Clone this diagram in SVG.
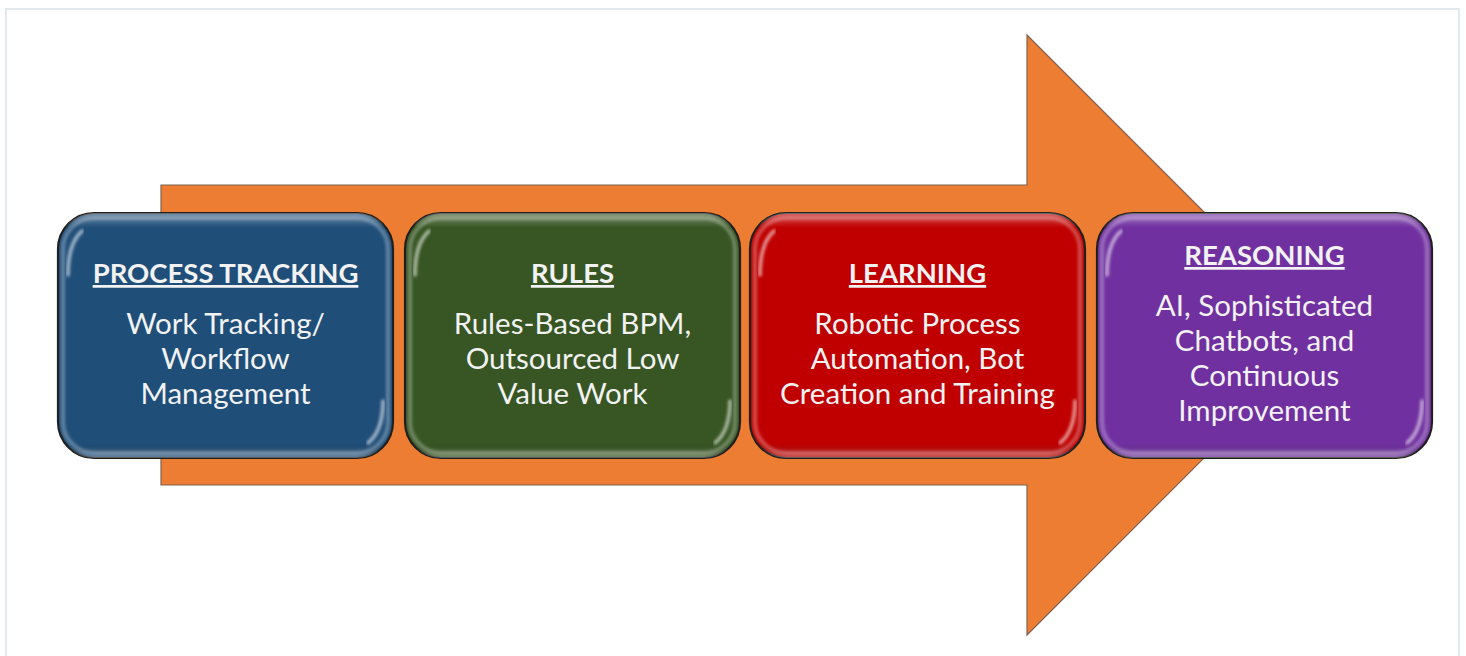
<svg xmlns="http://www.w3.org/2000/svg" width="1466" height="656" viewBox="0 0 1466 656">
  <defs>
    <style>
      .frame { fill: #ffffff; stroke: #e3e8ec; stroke-width: 2; }
      .arrow { fill: #ed7d31; stroke: #7f6350; stroke-width: 1.2; }
      .box { stroke: #1e1e1e; stroke-width: 2.2; }
      .bevel { fill: none; stroke: #ffffff; stroke-opacity: 0.3; stroke-width: 4; filter: url(#soft); }
      .shine { fill: none; stroke: #ffffff; stroke-opacity: 0.6; stroke-width: 3.5; stroke-linecap: round; filter: url(#soft); }
      .title { font-family: Lato, "Open Sans", sans-serif; font-weight: 700; font-size: 27.5px; fill: #f2f2f2; text-anchor: middle; text-decoration: underline; }
      .body { font-family: Lato, "Open Sans", sans-serif; font-size: 29.5px; fill: #f2f2f2; text-anchor: middle; }
    </style>
    <filter id="soft" x="-10%" y="-10%" width="120%" height="120%">
      <feGaussianBlur stdDeviation="1.4"/>
    </filter>
    <filter id="edge" x="-5%" y="-5%" width="110%" height="110%">
      <feGaussianBlur stdDeviation="0.6"/>
    </filter>
    <linearGradient id="topband" x1="0" y1="0" x2="0" y2="1">
      <stop offset="0" stop-color="#ffffff" stop-opacity="0.35"/>
      <stop offset="0.06" stop-color="#ffffff" stop-opacity="0"/>
      <stop offset="0.94" stop-color="#000000" stop-opacity="0"/>
      <stop offset="1" stop-color="#ffffff" stop-opacity="0.3"/>
    </linearGradient>
    <!-- shared bevelled card shape, 335 x 245 -->
    <g id="card-gloss">
      <rect x="0" y="0" width="335" height="245" rx="36" fill="url(#topband)"/>
      <rect x="5" y="5" width="325" height="235" rx="31" class="bevel"/>
      <path d="M10,62 Q10,30 24,18" class="shine"/>
      <path d="M325,50 L325,75" class="shine" stroke-opacity="0.45"/>
      <path d="M325,188 Q325,218 310,230" class="shine"/>
      <path d="M10,190 L10,205" class="shine" stroke-opacity="0.35"/>
    </g>
  </defs>

  <!-- page frame -->
  <rect class="frame" x="6" y="9" width="1453" height="660"/>

  <!-- big orange progress arrow behind the stages -->
  <g id="connectors">
    <path class="arrow" filter="url(#edge)" d="M161,185 H1027 V35 L1327,335 L1027,635 V485 H161 Z"/>
  </g>

  <g id="process-tracking">
    <rect class="box" x="58" y="213" width="335" height="245" rx="36" fill="#1f4e79"/>
    <use href="#card-gloss" x="58" y="213"/>
    <text class="title" x="225.5" y="283">PROCESS TRACKING</text>
    <text class="body" x="225.5" y="334">Work Tracking/</text>
    <text class="body" x="225.5" y="369">Workflow</text>
    <text class="body" x="225.5" y="404">Management</text>
  </g>

  <g id="rules">
    <rect class="box" x="405" y="213" width="335" height="245" rx="36" fill="#375623"/>
    <use href="#card-gloss" x="405" y="213"/>
    <text class="title" x="572.5" y="283">RULES</text>
    <text class="body" x="572.5" y="334">Rules-Based BPM,</text>
    <text class="body" x="572.5" y="369">Outsourced Low</text>
    <text class="body" x="572.5" y="404">Value Work</text>
  </g>

  <g id="learning">
    <rect class="box" x="750" y="213" width="335" height="245" rx="36" fill="#c00000"/>
    <use href="#card-gloss" x="750" y="213"/>
    <text class="title" x="917.5" y="283">LEARNING</text>
    <text class="body" x="917.5" y="334">Robotic Process</text>
    <text class="body" x="917.5" y="369">Automation, Bot</text>
    <text class="body" x="917.5" y="404">Creation and Training</text>
  </g>

  <g id="reasoning">
    <rect class="box" x="1097" y="213" width="335" height="245" rx="36" fill="#7030a0"/>
    <use href="#card-gloss" x="1097" y="213"/>
    <text class="title" x="1264.5" y="265">REASONING</text>
    <text class="body" x="1264.5" y="316">AI, Sophisticated</text>
    <text class="body" x="1264.5" y="351">Chatbots, and</text>
    <text class="body" x="1264.5" y="386">Continuous</text>
    <text class="body" x="1264.5" y="421">Improvement</text>
  </g>
</svg>
